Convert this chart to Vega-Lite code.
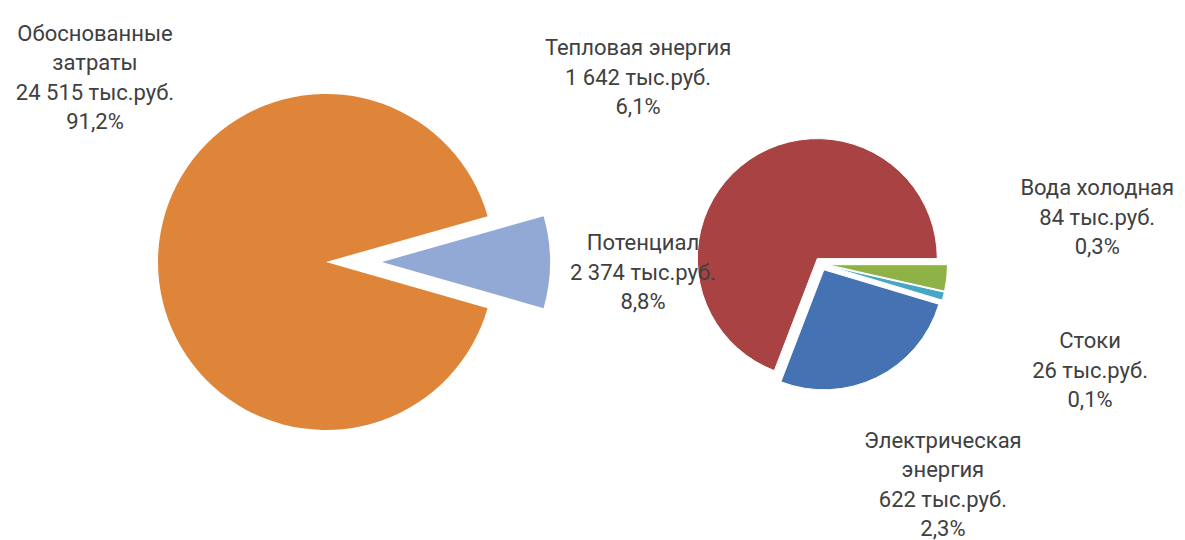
{
  "$schema": "https://vega.github.io/schema/vega-lite/v6.json",
  "background": "white",
  "padding": 5,
  "bounds": "flush",
  "spacing": 0,
  "config": {
    "view": {"stroke": null},
    "text": {"font": "Roboto", "fontSize": 22, "lineHeight": 29.5, "fill": "#404040"}
  },
  "data": {
    "values": [
      {"plot": "main", "n": 1, "name": "Потенциал", "value": 2374, "label": "Потенциал\n2 374 тыс.руб.\n8,8%"},
      {"plot": "main", "n": 2, "name": "Обоснованные затраты", "value": 24515, "label": "Обоснованные\nзатраты\n24 515 тыс.руб.\n91,2%"},
      {"plot": "sub", "n": 1, "name": "Вода холодная", "value": 84, "label": "Вода холодная\n84 тыс.руб.\n0,3%"},
      {"plot": "sub", "n": 2, "name": "Стоки", "value": 26, "label": "Стоки\n26 тыс.руб.\n0,1%"},
      {"plot": "sub", "n": 3, "name": "Электрическая энергия", "value": 622, "label": "Электрическая\nэнергия\n622 тыс.руб.\n2,3%"},
      {"plot": "sub", "n": 4, "name": "Тепловая энергия", "value": 1642, "label": "Тепловая энергия\n1 642 тыс.руб.\n6,1%"}
    ]
  },
  "hconcat": [
    {
      "width": 642,
      "height": 514,
      "transform": [{"filter": "datum.plot === 'main'"}],
      "encoding": {
        "theta": {"field": "value", "type": "quantitative", "stack": true, "scale": {"range": [1.2943, 7.5775]}},
        "order": {"field": "n", "type": "quantitative"},
        "color": {
          "field": "name", "type": "nominal", "legend": null,
          "scale": {
            "domain": ["Потенциал", "Обоснованные затраты", "Вода холодная", "Стоки", "Электрическая энергия", "Тепловая энергия"],
            "range": ["#92A8D5", "#DF8539", "#8EB246", "#47A6C4", "#4472B2", "#A94343"]
          }
        }
      },
      "layer": [
        {
          "mark": {"type": "arc", "outerRadius": 168},
          "encoding": {"opacity": {"condition": {"test": "datum.name === 'Потенциал'", "value": 0}, "value": 1}}
        },
        {
          "mark": {"type": "arc", "outerRadius": 168, "xOffset": 56},
          "encoding": {"opacity": {"condition": {"test": "datum.name !== 'Потенциал'", "value": 0}, "value": 1}}
        },
        {
          "mark": {"type": "text", "radius": 168, "dx": -63, "dy": -228, "align": "center", "baseline": "middle", "lineBreak": "\n"},
          "encoding": {
            "color": {"value": "#404040"},
            "text": {"condition": {"test": "datum.name === 'Обоснованные затраты'", "field": "label", "type": "nominal"}, "value": ""}
          }
        }
      ]
    },
    {
      "width": 348,
      "height": 518,
      "layer": [
        {
          "transform": [{"filter": "datum.plot === 'sub'"}],
          "mark": {"type": "arc", "outerRadius": 120, "stroke": "white", "strokeWidth": 1, "xOffset": 6.5, "yOffset": 0.7},
          "encoding": {
            "theta": {"field": "value", "type": "quantitative", "stack": true, "scale": {"range": [1.5708, 7.854]}},
            "order": {"field": "n", "type": "quantitative"},
            "color": {"field": "name", "type": "nominal", "legend": null, "scale": {"domain": ["Потенциал", "Обоснованные затраты", "Вода холодная", "Стоки", "Электрическая энергия", "Тепловая энергия"], "range": ["#92A8D5", "#DF8539", "#8EB246", "#47A6C4", "#4472B2", "#A94343"]}},
            "opacity": {"condition": {"test": "datum.name !== 'Вода холодная'", "value": 0}, "value": 1}
          }
        },
        {
          "transform": [{"filter": "datum.plot === 'sub'"}],
          "mark": {"type": "arc", "outerRadius": 120, "stroke": "white", "strokeWidth": 1, "xOffset": 6.3, "yOffset": 1.7},
          "encoding": {
            "theta": {"field": "value", "type": "quantitative", "stack": true},
            "order": {"field": "n", "type": "quantitative"},
            "color": {"field": "name", "type": "nominal", "legend": null},
            "opacity": {"condition": {"test": "datum.name !== 'Стоки'", "value": 0}, "value": 1}
          }
        },
        {
          "transform": [{"filter": "datum.plot === 'sub'"}],
          "mark": {"type": "arc", "outerRadius": 120, "stroke": "white", "strokeWidth": 1, "xOffset": 2.9, "yOffset": 5.8},
          "encoding": {
            "theta": {"field": "value", "type": "quantitative", "stack": true},
            "order": {"field": "n", "type": "quantitative"},
            "color": {"field": "name", "type": "nominal", "legend": null},
            "opacity": {"condition": {"test": "datum.name !== 'Электрическая энергия'", "value": 0}, "value": 1}
          }
        },
        {
          "transform": [{"filter": "datum.plot === 'sub'"}],
          "mark": {"type": "arc", "outerRadius": 120, "stroke": "white", "strokeWidth": 1, "xOffset": -3.7, "yOffset": -5.4},
          "encoding": {
            "theta": {"field": "value", "type": "quantitative", "stack": true},
            "order": {"field": "n", "type": "quantitative"},
            "color": {"field": "name", "type": "nominal", "legend": null},
            "opacity": {"condition": {"test": "datum.name !== 'Тепловая энергия'", "value": 0}, "value": 1}
          }
        },
        {
          "transform": [{"filter": "datum.plot === 'sub'"}],
          "mark": {"type": "text", "radius": 120, "dx": -115, "dy": -117, "align": "center", "baseline": "middle", "lineBreak": "\n"},
          "encoding": {
            "theta": {"field": "value", "type": "quantitative", "stack": true},
            "order": {"field": "n", "type": "quantitative"},
            "color": {"value": "#404040"},
            "text": {"condition": {"test": "datum.name === 'Тепловая энергия'", "field": "label", "type": "nominal"}, "value": ""}
          }
        },
        {
          "transform": [{"filter": "datum.plot === 'sub'"}],
          "mark": {"type": "text", "radius": 120, "dx": 157, "dy": -89, "align": "center", "baseline": "middle", "lineBreak": "\n"},
          "encoding": {
            "theta": {"field": "value", "type": "quantitative", "stack": true},
            "order": {"field": "n", "type": "quantitative"},
            "color": {"value": "#404040"},
            "text": {"condition": {"test": "datum.name === 'Вода холодная'", "field": "label", "type": "nominal"}, "value": ""}
          }
        },
        {
          "transform": [{"filter": "datum.plot === 'sub'"}],
          "mark": {"type": "text", "radius": 120, "dx": 153, "dy": 47, "align": "center", "baseline": "middle", "lineBreak": "\n"},
          "encoding": {
            "theta": {"field": "value", "type": "quantitative", "stack": true},
            "order": {"field": "n", "type": "quantitative"},
            "color": {"value": "#404040"},
            "text": {"condition": {"test": "datum.name === 'Стоки'", "field": "label", "type": "nominal"}, "value": ""}
          }
        },
        {
          "transform": [{"filter": "datum.plot === 'sub'"}],
          "mark": {"type": "text", "radius": 120, "dx": 69, "dy": 69, "align": "center", "baseline": "middle", "lineBreak": "\n"},
          "encoding": {
            "theta": {"field": "value", "type": "quantitative", "stack": true},
            "order": {"field": "n", "type": "quantitative"},
            "color": {"value": "#404040"},
            "text": {"condition": {"test": "datum.name === 'Электрическая энергия'", "field": "label", "type": "nominal"}, "value": ""}
          }
        },
        {
          "transform": [{"filter": "datum.name === 'Потенциал'"}],
          "mark": {"type": "text", "dx": -178, "dy": -21, "align": "center", "baseline": "middle", "lineBreak": "\n"},
          "encoding": {
            "color": {"value": "#404040"},
            "text": {"field": "label", "type": "nominal"}
          }
        }
      ]
    }
  ]
}
